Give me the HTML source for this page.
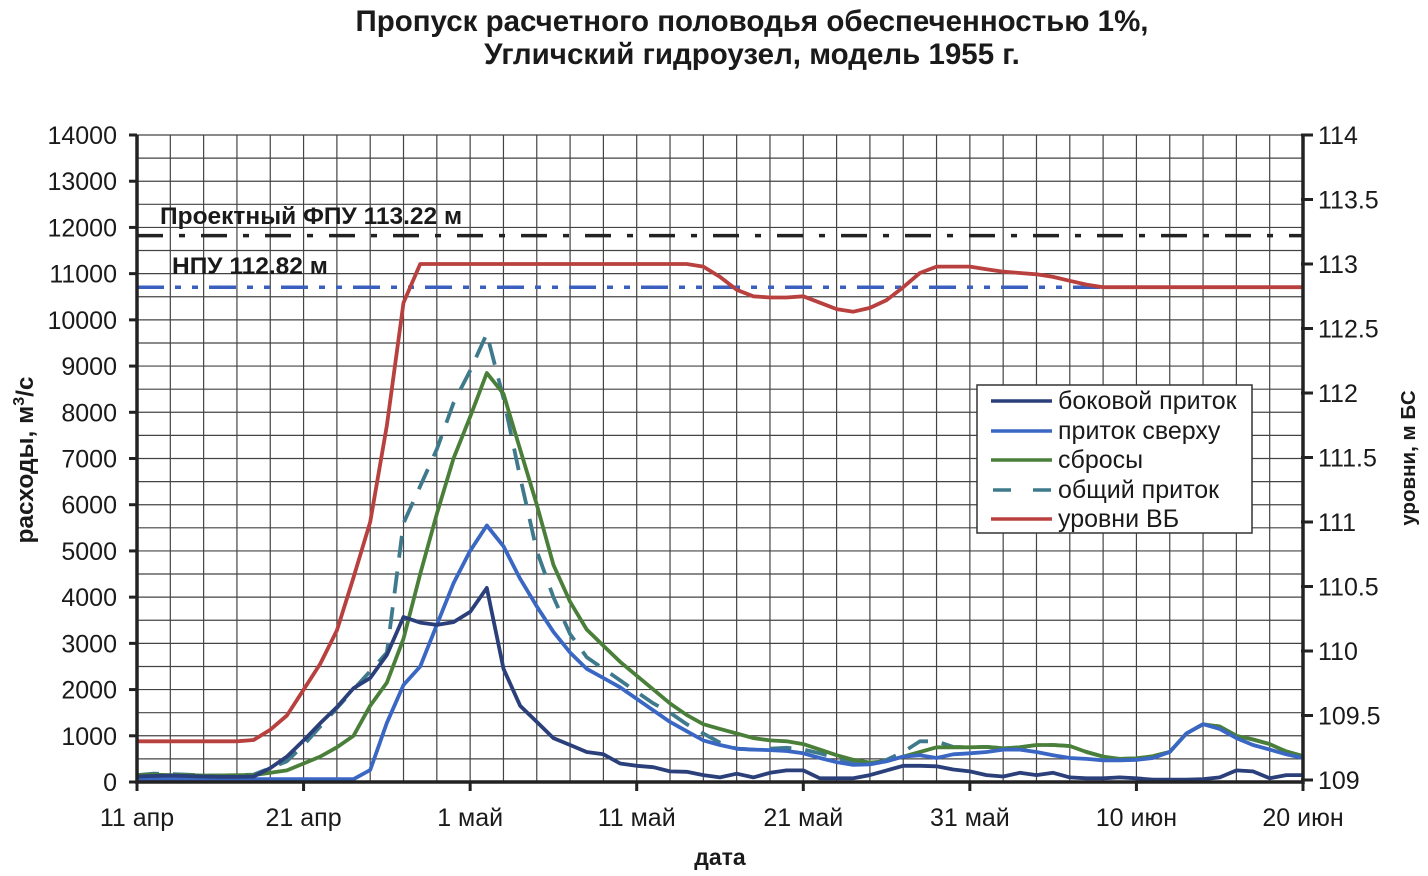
<!DOCTYPE html>
<html><head><meta charset="utf-8">
<style>
html,body{margin:0;padding:0;background:#fff;}
svg{display:block;font-family:"Liberation Sans",Arial,sans-serif;}
</style></head>
<body>
<svg id="chart" width="1428" height="876" viewBox="0 0 1428 876" xmlns="http://www.w3.org/2000/svg">
<text x="752" y="31" text-anchor="middle" font-size="29.5" font-weight="bold" fill="#1a1a1a">Пропуск расчетного половодья обеспеченностью 1%,</text>
<text x="752" y="64" text-anchor="middle" font-size="29.5" font-weight="bold" fill="#1a1a1a">Угличский гидроузел, модель 1955 г.</text>
<g id="grid"></g>
<g id="marks"></g>
<g id="axes"></g>
<text transform="translate(33,460) rotate(-90)" text-anchor="middle" font-size="24.5" font-weight="bold" fill="#1a1a1a">расходы, м<tspan dy="-9" font-size="16">3</tspan><tspan dy="9">/с</tspan></text>
<text transform="translate(1415,458) rotate(-90)" text-anchor="middle" font-size="20.5" font-weight="bold" fill="#1a1a1a">уровни, м БС</text>
<text x="720" y="865" text-anchor="middle" font-size="23" font-weight="bold" fill="#1a1a1a">дата</text>
<text x="160" y="224" font-size="24.5" font-weight="bold" fill="#1a1a1a">Проектный ФПУ 113.22 м</text>
<text x="172" y="274" font-size="24.5" font-weight="bold" fill="#1a1a1a">НПУ 112.82 м</text>
<g>
<rect x="977" y="385" width="275" height="148" fill="#fff" stroke="#333" stroke-width="1.5"/>
<line x1="991" y1="401" x2="1052" y2="401" stroke="#2b3f7a" stroke-width="3.5"/>
<text x="1058" y="409" font-size="25" fill="#1a1a1a">боковой приток</text>
<line x1="991" y1="431" x2="1052" y2="431" stroke="#3a66c4" stroke-width="3.5"/>
<text x="1058" y="439" font-size="25" fill="#1a1a1a">приток сверху</text>
<line x1="991" y1="460" x2="1052" y2="460" stroke="#4a7f3a" stroke-width="3.5"/>
<text x="1058" y="468" font-size="25" fill="#1a1a1a">сбросы</text>
<line x1="993" y1="490" x2="1052" y2="490" stroke="#3f7a8c" stroke-width="3.5" stroke-dasharray="18,22"/>
<text x="1058" y="498" font-size="25" fill="#1a1a1a">общий приток</text>
<line x1="991" y1="519" x2="1052" y2="519" stroke="#b8403e" stroke-width="3.5"/>
<text x="1058" y="527" font-size="25" fill="#1a1a1a">уровни ВБ</text>
</g>
</svg>
<script>
const side = [120,130,140,130,120,110,110,120,300,550,900,1270,1620,2030,2250,2750,3570,3450,3400,3460,3680,4200,2450,1650,1300,950,800,650,600,400,350,320,230,220,150,100,180,100,200,250,250,80,80,80,150,250,350,350,340,270,230,150,120,200,150,200,100,80,80,100,80,50,50,50,60,100,250,230,80,150,150];
const upper = [60,60,60,60,60,60,60,60,60,60,60,60,60,60,260,1280,2100,2500,3400,4300,5000,5550,5100,4400,3800,3250,2800,2450,2250,2050,1800,1550,1300,1100,900,800,720,700,690,670,620,520,430,370,380,450,550,580,520,600,620,650,700,700,650,580,520,500,470,470,480,520,650,1050,1250,1150,950,800,700,600,520];
const release = [150,160,150,150,140,140,150,150,200,250,400,550,750,1000,1650,2150,3100,4500,5800,7000,7900,8850,8400,7200,6000,4700,3900,3300,2950,2600,2300,2000,1700,1450,1250,1150,1050,950,900,880,820,700,580,480,420,450,550,650,750,750,750,760,730,750,800,800,780,650,550,500,510,560,650,1050,1250,1200,1000,920,820,660,560];
const total = [150,180,170,160,140,140,150,160,300,450,800,1200,1600,2000,2400,2800,5600,6400,7200,8200,8900,9700,8300,6600,5000,4000,3200,2700,2450,2200,1950,1700,1500,1250,1050,850,720,700,720,740,700,620,520,420,380,480,650,880,880,760,750,760,730,750,800,800,780,650,550,500,510,560,650,1050,1250,1200,1000,920,820,660,560];
const level = [109.3,109.3,109.3,109.3,109.3,109.3,109.3,109.31,109.39,109.5,109.7,109.9,110.16,110.57,111.0,111.75,112.7,113.0,113.0,113.0,113.0,113.0,113.0,113.0,113.0,113.0,113.0,113.0,113.0,113.0,113.0,113.0,113.0,113.0,112.98,112.9,112.8,112.75,112.74,112.74,112.75,112.7,112.65,112.63,112.66,112.72,112.82,112.93,112.98,112.98,112.98,112.96,112.94,112.93,112.92,112.9,112.87,112.84,112.82,112.82,112.82,112.82,112.82,112.82,112.82,112.82,112.82,112.82,112.82,112.82,112.82];
const refLevels = [113.22, 112.82];
const leftTicks = [0,1000,2000,3000,4000,5000,6000,7000,8000,9000,10000,11000,12000,13000,14000];
const rightTicks = [109,109.5,110,110.5,111,111.5,112,112.5,113,113.5,114];
const xTickLabels = ["11 апр","21 апр","1 май","11 май","21 май","31 май","10 июн","20 июн"];

const X0=137, X1=1303, Y0=782, Y1=135, DAYS=70;
const ns="http://www.w3.org/2000/svg";
const xs = d => X0 + d*(X1-X0)/DAYS;
const yL = v => Y0 - v*(Y0-Y1)/14000;
const yR = v => 780 - (v-109)*(780-135)/5;
function mk(tag, attrs, parent){const e=document.createElementNS(ns,tag);for(const k in attrs)e.setAttribute(k,attrs[k]);parent.appendChild(e);return e;}
const grid=document.getElementById('grid'), marks=document.getElementById('marks'), axes=document.getElementById('axes');

for(let d=2; d<DAYS; d+=2){
  const l=mk('line',{x1:xs(d),x2:xs(d),y1:Y1,y2:Y0,stroke:'#444','stroke-width':1.2},grid);
  
  
}
for(let v=500; v<=14000; v+=500){
  const l=mk('line',{x1:X0,x2:X1,y1:yL(v),y2:yL(v),stroke:'#444','stroke-width':1.2},grid);
  
  
}

const fpu=mk('line',{x1:X0,x2:X1,y1:yR(refLevels[0]),y2:yR(refLevels[0]),stroke:'#222','stroke-width':3.5,'stroke-dasharray':'26,16,6,16'},marks);


const npu=mk('line',{x1:X0,x2:X1,y1:yR(refLevels[1]),y2:yR(refLevels[1]),stroke:'#3a5fbf','stroke-width':3.5,'stroke-dasharray':'27,11,6,11,6,11'},marks);



function series(arr, yf, color, name, dash){
  const pts=arr.map((v,i)=>xs(i).toFixed(1)+','+yf(v).toFixed(1)).join(' ');
  const a={points:pts,fill:'none',stroke:color,'stroke-width':3.8,'stroke-linejoin':'round'};
  if(dash)a['stroke-dasharray']=dash;
  const p=mk('polyline',a,marks);
  
  
}
series(level,yR,'#b8403e','level-line');
series(total,yL,'#3f7a8c','total-inflow-line','22,14');
series(release,yL,'#4a7f3a','release-line');
series(upper,yL,'#3a66c4','upper-inflow-line');
series(side,yL,'#2b3f7a','side-inflow-line');

const ax1=mk('line',{x1:X0,x2:X0,y1:Y1,y2:Y0+2,stroke:'#222','stroke-width':3.5},axes);


const ax2=mk('line',{x1:X1,x2:X1,y1:Y1,y2:Y0+2,stroke:'#222','stroke-width':3.5},axes);


const ax3=mk('line',{x1:X0,x2:X1,y1:Y0,y2:Y0,stroke:'#222','stroke-width':3.5},axes);


leftTicks.forEach(v=>{
  const t=mk('line',{x1:X0-8,x2:X0,y1:yL(v),y2:yL(v),stroke:'#222','stroke-width':3},axes);
  
  
  const tx=mk('text',{x:117,y:yL(v)+9,'text-anchor':'end','font-size':25,fill:'#1a1a1a'},axes);
  tx.textContent=v;
  
  
});
rightTicks.forEach(v=>{
  const t=mk('line',{x1:X1-2,x2:X1+10,y1:yR(v),y2:yR(v),stroke:'#222','stroke-width':3},axes);
  
  
  const tx=mk('text',{x:1318,y:yR(v)+9,'font-size':25,fill:'#1a1a1a'},axes);
  tx.textContent=v;
  
  
});
xTickLabels.forEach((s,i)=>{
  const x=xs(i*10);
  const t=mk('line',{x1:x,x2:x,y1:Y0,y2:Y0+9,stroke:'#222','stroke-width':3},axes);
  
  
  const tx=mk('text',{x:x,y:826,'text-anchor':'middle','font-size':25,fill:'#1a1a1a'},axes);
  tx.textContent=s;
  
  
});
</script>
</body></html>
